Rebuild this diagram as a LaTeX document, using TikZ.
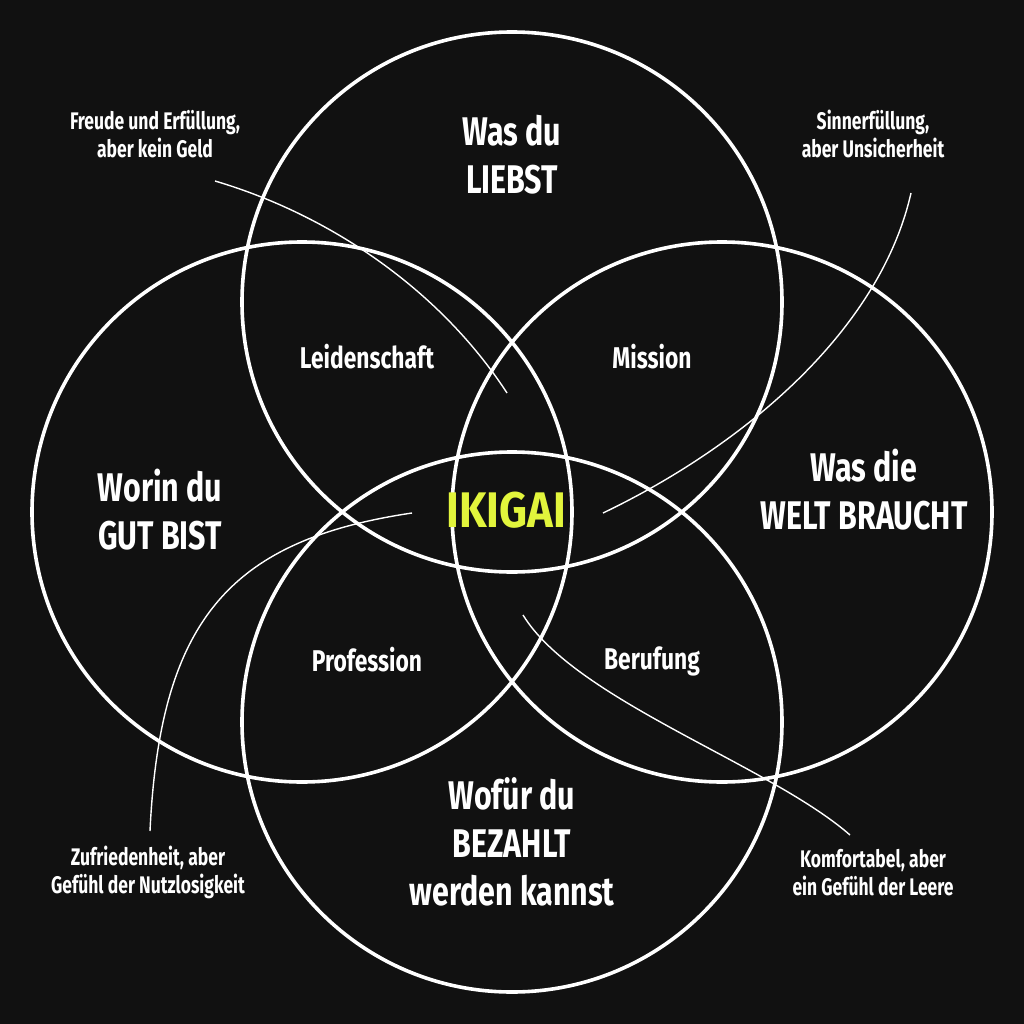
\documentclass[tikz,border=0pt]{standalone}
\usepackage{fontspec}
\setmainfont{Fira Sans}
\usepackage{graphicx}
\definecolor{bg}{HTML}{111111}
\definecolor{ikigai}{HTML}{E2F53C}
\newcommand\cnd[2]{\scalebox{#1}[1]{\begin{tabular}{@{}c@{}}#2\end{tabular}}}
\begin{document}
\begin{tikzpicture}[x=1pt,y=-1pt,
  ring/.style={draw=white, line width=3.6pt},
  conn/.style={draw=white, line width=1.4pt},
  bigl/.style={text=white, inner sep=0pt, font=\fontsize{40}{48}\selectfont\bfseries},
  midl/.style={text=white, inner sep=0pt, font=\fontsize{30}{36}\selectfont\bfseries},
  smal/.style={text=white, inner sep=0pt, font=\fontsize{24}{28}\selectfont\bfseries},
  core/.style={text=ikigai, inner sep=0pt, font=\fontsize{50}{60}\selectfont\bfseries}]
\fill[bg] (0,0) rectangle (1024,1024);
\useasboundingbox (0,0) rectangle (1024,1024);
% circles
\draw[ring] (512,302) circle[radius=270pt];
\draw[ring] (302,512) circle[radius=270pt];
\draw[ring] (722,512) circle[radius=270pt];
\draw[ring] (512,722) circle[radius=270pt];
% main labels
\node[bigl] (love) at (512,160) {\cnd{0.76}{Was du\\LIEBST}};
\node[bigl] (good) at (160,516) {\cnd{0.76}{Worin du\\GUT BIST}};
\node[bigl] (world) at (864,496) {\cnd{0.76}{Was die\\WELT BRAUCHT}};
\node[bigl] (paid) at (512,848) {\cnd{0.76}{Wofür du\\BEZAHLT\\werden kannst}};
% intersections
\node[midl] (passion) at (367,361) {\cnd{0.76}{Leidenschaft}};
\node[midl] (mission) at (652,361) {\cnd{0.76}{Mission}};
\node[midl] (profession) at (367,664) {\cnd{0.76}{Profession}};
\node[midl] (vocation) at (652,662) {\cnd{0.76}{Berufung}};
\node[core] (ikigai) at (506,515) {\cnd{0.87}{IKIGAI}};
% annotations
\node[smal] (n1) at (155,138) {\cnd{0.73}{Freude und Erfüllung,\\aber kein Geld}};
\node[smal] (n2) at (873,138) {\cnd{0.73}{Sinnerfüllung,\\aber Unsicherheit}};
\node[smal] (n3) at (148,874) {\cnd{0.73}{Zufriedenheit, aber\\Gefühl der Nutzlosigkeit}};
\node[smal] (n4) at (873,876) {\cnd{0.73}{Komfortabel, aber\\ein Gefühl der Leere}};
% connector ends
\coordinate (a1) at (215,181);
\coordinate (b1) at (507,393);
\coordinate (a2) at (911,193);
\coordinate (b2) at (603,513);
\coordinate (a3) at (150,831);
\coordinate (b3) at (412,513);
\coordinate (a4) at (850,835);
\coordinate (b4) at (523,615);
\draw[conn] (a1) .. controls (330,215) and (440,290) .. (b1);
\draw[conn] (a2) .. controls (880,330) and (745,445) .. (b2);
\draw[conn] (a3) .. controls (160,620) and (230,540) .. (b3);
\draw[conn] (a4) .. controls (770,765) and (575,700) .. (b4);
\end{tikzpicture}
\end{document}
